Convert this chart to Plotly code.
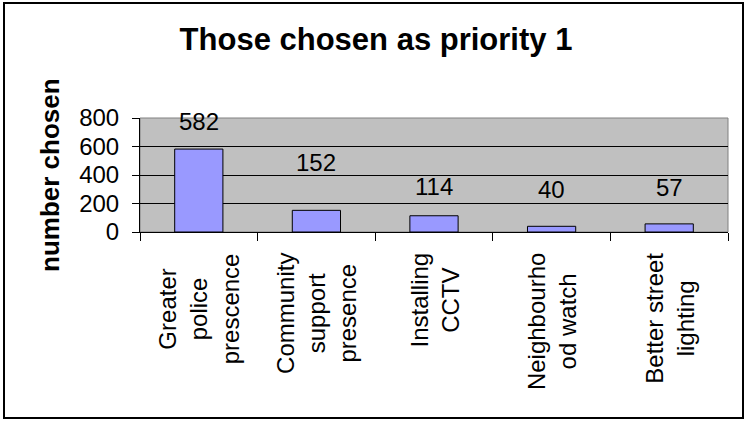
import plotly.graph_objects as go

# Data
categories = [
    "Greater police prescence",
    "Community support presence",
    "Installing CCTV",
    "Neighbourhood watch",
    "Better street lighting",
]
tick_labels = [
    "Greater<br>police<br>prescence",
    "Community<br>support<br>presence",
    "Installing<br>CCTV",
    "Neighbourho<br>od watch",
    "Better street<br>lighting",
]
counts = [582, 152, 114, 40, 57]

# Styling (label lift above bar top, in px)
label_lift = [28, 48, 29, 37, 36]

FONT = "Arial, Liberation Sans, sans-serif"
W, H = 747, 423
L, R, T, B = 140, 19, 118, 191
plot_w, plot_h = W - L - R, H - T - B


def px_to_paper_x(px):
    return (px - L) / plot_w


def px_to_paper_y(py):
    return (H - B - py) / plot_h


fig = go.Figure(go.Bar(
    x=categories,
    y=counts,
    marker=dict(color="#9999FF", line=dict(color="black", width=1)),
    hoverinfo="x+y",
))

# data labels above bars
for cat, val, lift in zip(categories, counts, label_lift):
    fig.add_annotation(
        x=cat, y=val, xref="x", yref="y",
        text=str(val), showarrow=False,
        yanchor="middle", yshift=lift,
        font=dict(family=FONT, size=24, color="black"),
    )

# category labels, rotated, lines centred like Excel
for cat, lab in zip(categories, tick_labels):
    fig.add_annotation(
        x=cat, y=0, xref="x", yref="paper",
        text=lab, showarrow=False, textangle=-90,
        align="center", xanchor="center", yanchor="top",
        yshift=-19,
        font=dict(family=FONT, size=24, color="black"),
    )

# y axis title
fig.add_annotation(
    x=px_to_paper_x(50), y=0.5, xref="paper", yref="paper",
    text="<b>number chosen</b>", showarrow=False, textangle=-90,
    xanchor="center", yanchor="middle",
    font=dict(family=FONT, size=26, color="black"),
)

# plot area fill + grey border
fig.add_shape(
    type="rect", xref="paper", yref="paper", x0=0, x1=1, y0=0, y1=1,
    fillcolor="#C0C0C0", line=dict(color="#808080", width=1), layer="below",
)
# outer chart border
fig.add_shape(
    type="rect", xref="paper", yref="paper",
    x0=px_to_paper_x(4), x1=px_to_paper_x(743),
    y0=px_to_paper_y(418), y1=px_to_paper_y(3),
    line=dict(color="black", width=2), fillcolor="rgba(0,0,0,0)",
)

fig.update_layout(
    width=W, height=H,
    margin=dict(l=L, r=R, t=T, b=B, pad=0),
    paper_bgcolor="white",
    plot_bgcolor="#C0C0C0",
    showlegend=False,
    bargap=0.59,
    font=dict(family=FONT, color="black"),
    title=dict(
        text="<b>Those chosen as priority 1</b>",
        x=376 / W, xanchor="center",
        y=1 - 39 / H, yanchor="middle",
        font=dict(family=FONT, size=31, color="black"),
    ),
    xaxis=dict(
        type="category",
        showticklabels=False,
        ticks="outside", tickson="boundaries", ticklen=8,
        tickcolor="black", tickwidth=1,
        showline=True, linecolor="black", linewidth=1,
        showgrid=False, zeroline=False,
    ),
    yaxis=dict(
        range=[0, 800], dtick=200,
        ticks="outside", ticklen=7, tickcolor="black", tickwidth=1,
        ticklabelstandoff=8,
        tickfont=dict(family=FONT, size=24, color="black"),
        showline=True, linecolor="black", linewidth=1,
        showgrid=True, gridcolor="black", gridwidth=1,
        zeroline=False,
    ),
)

# page has a default 8px body margin; drop it so the chart fills the window
fig.write_html(
    "out.html",
    config={"displayModeBar": False},
    post_script="document.body.style.margin='0';",
)
